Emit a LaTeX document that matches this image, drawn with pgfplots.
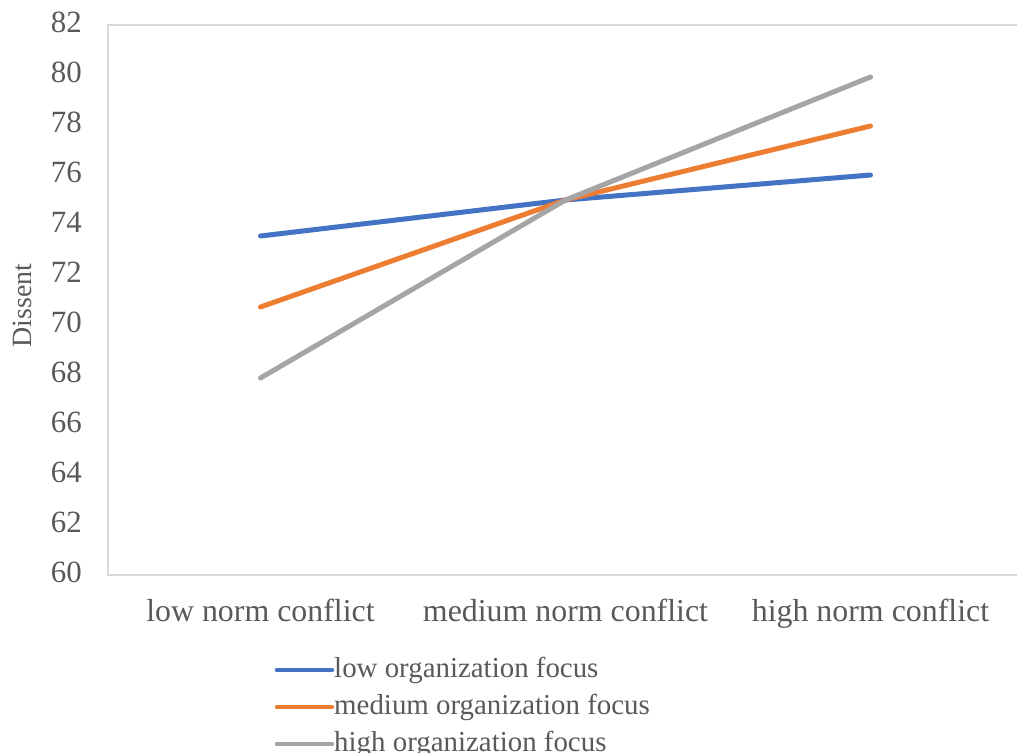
\documentclass[border=0pt]{standalone}
\usepackage{pgfplots}
\pgfplotsset{compat=1.18}
\usepackage{fontspec}
\setmainfont{Liberation Serif}
\definecolor{cblue}{HTML}{4472C4}
\definecolor{corange}{HTML}{ED7D31}
\definecolor{cgray}{HTML}{A5A5A5}
\definecolor{ctext}{HTML}{595959}
\definecolor{caxis}{HTML}{D9D9D9}
\begin{document}
\begin{tikzpicture}
\begin{axis}[
  scale only axis,
  width=915bp, height=550bp,
  xmin=-0.5, xmax=2.5,
  ymin=60, ymax=82,
  ytick={60,62,...,82},
  xtick={0,1,2},
  xticklabels={low norm conflict,medium norm conflict,high norm conflict},
  major tick length=0pt,
  axis line style={caxis, line width=1.2bp},
  /pgf/number format/assume math mode=true,
  yticklabel style={font=\fontsize{31}{36}\selectfont, text=ctext, anchor=east, inner sep=0pt, xshift=-26bp},
  xticklabel style={font=\fontsize{32}{36}\selectfont, text=ctext, anchor=north, inner sep=0pt, text height=22bp, text depth=7bp, yshift=-24bp},
  typeset ticklabels with strut=false,
  ylabel={Dissent},
  ylabel style={font=\fontsize{28}{32}\selectfont, text=ctext, at={(axis description cs:-0.094,0.49)}, anchor=center, rotate=0, inner sep=0pt},
  legend style={draw=none, fill=none, at={(axis description cs:0.182,-0.147)}, anchor=north west,
    font=\fontsize{29}{33}\selectfont, text=ctext, inner sep=0pt, row sep=9bp, column sep=0bp,
    nodes={inner sep=0pt, text height=21bp, text depth=7bp, anchor=west}},
  legend cell align=left,
  legend image code/.code={\draw[#1, line width=4.5bp] (0bp,0bp) -- (55bp,0bp);},
  every axis plot/.append style={line width=5bp, line cap=round},
  clip=false,
]
\addplot[cblue, mark=none] coordinates {(0,73.56) (1,75.0) (2,76.0)};
\addlegendentry{low organization focus}
\addplot[corange, mark=none] coordinates {(0,70.72) (1,75.0) (2,77.96)};
\addlegendentry{medium organization focus}
\addplot[cgray, mark=none] coordinates {(0,67.88) (1,75.0) (2,79.92)};
\addlegendentry{high organization focus}
\end{axis}
\pgfresetboundingbox
\path[use as bounding box] (-108bp,-178bp) rectangle (909bp,575bp);
\end{tikzpicture}
\end{document}
